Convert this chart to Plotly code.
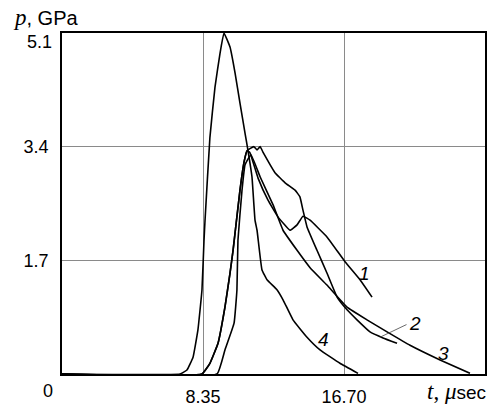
import plotly.graph_objects as go

# ---- data (t in microseconds, p in GPa) ----
t1 = [0, 8.29, 8.76, 9.24, 9.65, 9.95, 10.13, 10.54, 10.78, 10.96, 11.13, 11.61, 12.20, 12.79,
      13.50, 13.92, 14.27, 14.69, 15.69, 16.76, 17.65, 18.36]
p1 = [0, 0, 0.16, 0.46, 1.00, 1.51, 1.85, 2.75, 3.17, 3.34, 3.31, 2.93, 2.60, 2.35,
      2.15, 2.23, 2.36, 2.30, 2.05, 1.68, 1.41, 1.15]

t2 = [0, 8.29, 8.76, 9.24, 9.65, 9.95, 10.13, 10.54, 10.78, 10.96, 11.13, 11.37, 11.55, 11.73,
      11.90, 12.32, 12.61, 13.21, 13.80, 14.09, 14.27, 14.51, 15.10, 15.69, 16.29, 16.88,
      17.47, 18.24, 19.01, 19.84]
p2 = [0, 0, 0.16, 0.46, 1.00, 1.51, 1.85, 2.75, 3.17, 3.34, 3.37, 3.40, 3.35, 3.40,
      3.32, 3.13, 3.01, 2.86, 2.75, 2.65, 2.45, 2.20, 1.85, 1.51, 1.15, 0.96,
      0.81, 0.63, 0.54, 0.46]

t3 = [0, 9.18, 9.65, 10.19, 10.36, 10.42, 10.66, 10.84, 11.19, 11.73, 12.50, 13.09, 13.92,
      14.69, 15.69, 16.88, 18.06, 19.25, 20.61, 22.39, 24.16]
p3 = [0, 0, 0.36, 0.76, 1.26, 2.00, 2.75, 3.13, 3.28, 2.95, 2.53, 2.15, 1.85,
      1.59, 1.33, 1.00, 0.81, 0.63, 0.43, 0.21, 0.01]

t4 = [0, 6.99, 7.40, 7.76, 8.05, 8.29, 8.41, 8.47, 8.76, 9.06, 9.36, 9.59, 9.95, 10.25, 10.54,
      10.84, 11.01, 11.25, 11.43, 11.55, 11.84, 12.14, 12.73, 13.09, 13.68, 14.51, 15.28,
      16.46, 17.53]
p4 = [0, 0, 0.06, 0.25, 0.66, 1.26, 2.00, 2.30, 3.54, 4.29, 4.80, 5.10, 4.89, 4.50, 4.05,
      3.60, 3.35, 2.95, 2.30, 2.15, 1.56, 1.41, 1.26, 1.11, 0.81, 0.55, 0.36,
      0.16, 0.01]

x_ticks = [8.35, 16.70]
x_ticktext = ["8.35", "16.70"]
y_ticks = [1.7, 3.4, 5.1]
y_ticktext = ["1.7", "3.4", ""]

curve_labels = ["1", "2", "3", "4"]
label_t = [17.94, 20.90, 22.62, 15.46]
label_p = [1.51, 0.76, 0.30, 0.52]

FONT = "Liberation Sans, Arial, sans-serif"
SERIF = "Liberation Serif, Times New Roman, serif"

fig = go.Figure()
for tt, pp in [(t1, p1), (t2, p2), (t3, p3), (t4, p4)]:
    fig.add_trace(go.Scatter(x=tt, y=pp, mode="lines",
                             line=dict(color="black", width=1.6, shape="spline", smoothing=0.3),
                             showlegend=False, hoverinfo="skip"))

for lab, lt, lp in zip(curve_labels, label_t, label_p):
    fig.add_annotation(x=lt, y=lp, text="<i>" + lab + "</i>", showarrow=False,
                       font=dict(family=FONT, size=19, color="black"))

# leader line for label 2
fig.add_annotation(x=18.83, y=0.55, ax=20.49, ay=0.75, axref="x", ayref="y",
                   text="", showarrow=True, arrowhead=0, arrowwidth=0.8, arrowcolor="#444")

# "0" and "5.1" labels
fig.add_annotation(x=0, y=0, xref="x", yref="y", text="0", showarrow=False,
                   xanchor="center", yanchor="middle",
                   xshift=-14, yshift=-17, font=dict(family=FONT, size=18, color="black"))
fig.add_annotation(x=0, y=5.1, xref="x", yref="y", text="5.1", showarrow=False,
                   xanchor="right", yanchor="middle", xshift=-8, yshift=-9,
                   font=dict(family=FONT, size=18, color="black"))

# axis titles
fig.add_annotation(xref="paper", yref="paper", x=-0.12, y=1.0, yshift=16,
                   xanchor="left", yanchor="middle",
                   text="<span style='font-family:" + SERIF + ";font-size:23px'><i>p</i></span>, GPa",
                   showarrow=False, font=dict(family=FONT, size=20, color="black"))
fig.add_annotation(xref="paper", yref="paper", x=1.0, y=0, yshift=-17, xshift=3,
                   xanchor="right", yanchor="middle",
                   text="<span style='font-family:" + SERIF + ";font-size:23px'><i>t</i>, <i>μ</i></span>sec",
                   showarrow=False, font=dict(family=FONT, size=19, color="black"))

fig.update_layout(
    width=490, height=406,
    margin=dict(l=62, r=5, t=33, b=32, autoexpand=False),
    paper_bgcolor="white", plot_bgcolor="white",
    font=dict(family=FONT, size=18, color="black"),
    xaxis=dict(range=[0, 25.05], tickvals=x_ticks, ticktext=x_ticktext,
               showgrid=True, gridcolor="#8a8a8a", gridwidth=1, zeroline=False,
               showline=True, linecolor="black", linewidth=1.6, mirror=True,
               ticks="", ticklabelstandoff=6, automargin=False),
    yaxis=dict(range=[0, 5.1], tickvals=y_ticks, ticktext=y_ticktext,
               showgrid=True, gridcolor="#8a8a8a", gridwidth=1, zeroline=False,
               showline=True, linecolor="black", linewidth=1.6, mirror=True,
               ticks="", ticklabelstandoff=8, automargin=False),
)

fig.write_html("out.html", config={"displayModeBar": False},
               post_script="document.body.style.margin='0';")
